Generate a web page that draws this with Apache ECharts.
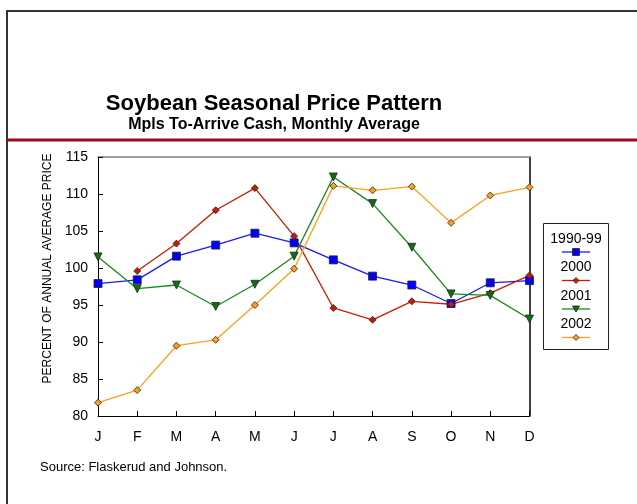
<!DOCTYPE html>
<html>
<head>
<meta charset="utf-8">
<script src="https://cdn.jsdelivr.net/npm/echarts@6/dist/echarts.min.js"></script>
<style>
  html, body { margin: 0; padding: 0; background: #fff; }
  #chart { width: 637px; height: 504px; }
</style>
</head>
<body>
<div id="chart"></div>
<script>
// 月份
var months = ['J', 'F', 'M', 'A', 'M', 'J', 'J', 'A', 'S', 'O', 'N', 'D'];
// 各年份的数据（年均价格的百分比）
var avg9099 = [97.9, 98.4, 101.6, 103.1, 104.7, 103.4, 101.1, 98.9, 97.7, 95.2, 98.0, 98.3];
var y2000 = [null, 99.6, 103.3, 107.8, 110.8, 104.3, 94.6, 93.0, 95.5, 95.1, 96.6, 99.0];
var y2001 = [101.5, 97.2, 97.7, 94.8, 97.8, 101.6, 112.3, 108.7, 102.8, 96.5, 96.3, 93.1];
var y2002 = [81.8, 83.5, 89.5, 90.3, 95.0, 99.9, 111.1, 110.5, 111.0, 106.1, 109.8, 110.9];
var seriesNames = ['1990-99', '2000', '2001', '2002'];
var yTicks = [80, 85, 90, 95, 100, 105, 110, 115];

var chart = echarts.init(document.getElementById('chart'));

var colors = ['#1a1aff', '#cc1a00', '#1a8a1a', '#ff9f1a'];
var fills = ['#0000ff', '#cc1a00', '#107010', '#ff9f1a'];
var symbols = ['rect', 'diamond', 'triangle', 'diamond'];
var sizes = [8, 7, 8, 7];
var rotates = [0, 0, 180, 0];
var dataList = [avg9099, y2000, y2001, y2002];

var series = [];
for (var i = 0; i < seriesNames.length; i++) {
  series.push({
    name: seriesNames[i],
    type: 'line',
    data: dataList[i],
    symbol: symbols[i],
    symbolSize: sizes[i],
    symbolRotate: rotates[i],
    showAllSymbol: true,
    lineStyle: { color: colors[i], width: 1.3 },
    itemStyle: { color: fills[i], borderColor: '#222', borderWidth: 0.8 },
    animation: false
  });
}

// 图例（文字在上，图标在下），用 graphic 画
var legendItems = [{
  type: 'rect',
  shape: { x: 543.5, y: 223.5, width: 65, height: 126 },
  style: { fill: '#fff', stroke: '#222', lineWidth: 1 }
}];
for (var k = 0; k < seriesNames.length; k++) {
  var ty = 239 + k * 28.5;
  legendItems.push({
    type: 'text',
    style: { text: seriesNames[k], x: 576, y: ty, align: 'center', verticalAlign: 'middle',
      font: '14px "Liberation Sans", Arial, sans-serif', fill: '#000' }
  });
  legendItems.push({
    type: 'line',
    shape: { x1: 562, y1: ty + 13, x2: 590, y2: ty + 13 },
    style: { stroke: colors[k], lineWidth: 1.3 }
  });
  if (symbols[k] === 'rect') {
    legendItems.push({ type: 'rect', shape: { x: 572.5, y: ty + 9.5, width: 7, height: 7 },
      style: { fill: fills[k], stroke: '#222', lineWidth: 0.8 } });
  } else if (symbols[k] === 'triangle') {
    legendItems.push({ type: 'polygon', shape: { points: [[572.5, ty + 10], [579.5, ty + 10], [576, ty + 16]] },
      style: { fill: fills[k], stroke: '#222', lineWidth: 0.8 } });
  } else {
    legendItems.push({ type: 'polygon', shape: { points: [[576, ty + 10], [579, ty + 13], [576, ty + 16], [573, ty + 13]] },
      style: { fill: fills[k], stroke: '#222', lineWidth: 0.8 } });
  }
}

var option = {
  backgroundColor: '#fff',
  animation: false,
  title: {
    text: 'Soybean Seasonal Price Pattern',
    subtext: 'Mpls To-Arrive Cash, Monthly Average',
    left: 269,
    textAlign: 'center',
    top: 88,
    itemGap: 2,
    textStyle: { fontFamily: 'Liberation Sans', fontSize: 22, fontWeight: 'bold', color: '#000' },
    subtextStyle: { fontFamily: 'Liberation Sans', fontSize: 16, fontWeight: 'bold', color: '#000' }
  },
  grid: { left: 98, right: 107.5, top: 157, bottom: 88 },
  xAxis: [{
    type: 'category',
    data: months,
    boundaryGap: false,
    axisLine: { lineStyle: { color: '#000', width: 1 } },
    axisTick: { inside: true, length: 5, lineStyle: { color: '#000' } },
    axisLabel: { margin: 14, fontFamily: 'Liberation Sans', fontSize: 14, color: '#000' },
    splitLine: { show: false }
  }, {
    type: 'category',
    data: months,
    position: 'top',
    boundaryGap: false,
    axisLine: { lineStyle: { color: '#808080', width: 1.5 } },
    axisTick: { show: false },
    axisLabel: { show: false },
    splitLine: { show: false }
  }],
  yAxis: [{
    type: 'value',
    min: yTicks[0],
    max: yTicks[yTicks.length - 1],
    interval: 5,
    name: 'PERCENT OF ANNUAL AVERAGE PRICE',
    nameLocation: 'middle',
    nameGap: 44,
    nameRotate: 90,
    nameTextStyle: { fontFamily: 'Liberation Sans', fontSize: 12, color: '#000', padding: [0, 0, 0, 36] },
    axisLine: { show: true, lineStyle: { color: '#000', width: 1 } },
    axisTick: { show: true, inside: true, length: 5, lineStyle: { color: '#000' } },
    axisLabel: { margin: 10, fontFamily: 'Liberation Sans', fontSize: 14, color: '#000' },
    splitLine: { show: false }
  }, {
    type: 'value',
    min: yTicks[0],
    max: yTicks[yTicks.length - 1],
    interval: 5,
    position: 'right',
    axisLine: { show: true, lineStyle: { color: '#000', width: 1.5 } },
    axisTick: { show: false },
    axisLabel: { show: false },
    splitLine: { show: false }
  }],
  series: series,
  graphic: [{
    type: 'rect',
    shape: { x: 7, y: 11, width: 700, height: 600 },
    style: { fill: null, stroke: '#333', lineWidth: 2 },
    z: 0
  }, {
    type: 'line',
    shape: { x1: 8, y1: 140, x2: 637, y2: 140 },
    style: { stroke: '#9b0a20', lineWidth: 3 }
  }, {
    type: 'text',
    style: { text: 'Source: Flaskerud and Johnson.', x: 40, y: 467, verticalAlign: 'middle',
      font: '13px "Liberation Sans", Arial, sans-serif', fill: '#000' }
  }].concat(legendItems)
};

chart.setOption(option);
</script>
</body>
</html>
